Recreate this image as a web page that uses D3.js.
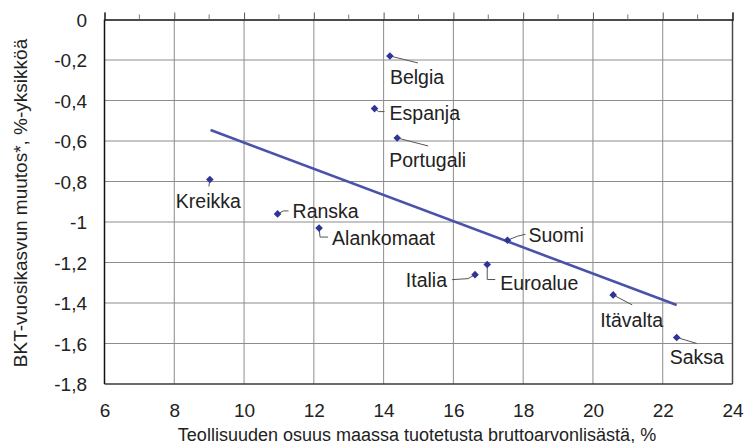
<!DOCTYPE html>
<html>
<head>
<meta charset="utf-8">
<script src="https://cdn.jsdelivr.net/npm/d3@7"></script>
<style>
  body { margin: 0; background: #fff; }
  svg { display: block; font-family: "Liberation Sans", Arial, sans-serif; }
  .grid line { stroke: #8c8c8c; stroke-width: 1; }
  .lab { font-size: 19.5px; fill: #222; }
  .tick text { font-size: 19px; fill: #222; }
</style>
</head>
<body>
<svg id="chart" width="746" height="443"></svg>
<script>
// Data
var countries = ['Belgia', 'Espanja', 'Portugali', 'Kreikka', 'Ranska', 'Alankomaat',
                 'Suomi', 'Italia', 'Euroalue', 'Itävalta', 'Saksa'];
var industryShare = [14.18, 13.74, 14.39, 9.02, 10.96, 12.15, 17.55, 16.62, 16.97, 20.58, 22.40];
var gdpChange = [-0.18, -0.44, -0.585, -0.79, -0.96, -1.03, -1.09, -1.26, -1.21, -1.36, -1.57];

var trendX = [9.04, 22.40];
var trendY = [-0.546, -1.41];

var xTicks = [6, 8, 10, 12, 14, 16, 18, 20, 22, 24];
var yTicks = [0, -0.2, -0.4, -0.6, -0.8, -1, -1.2, -1.4, -1.6, -1.8];

var xTitle = 'Teollisuuden osuus maassa tuotetusta bruttoarvonlisästä, %';
var yTitle = 'BKT-vuosikasvun muutos*, %-yksikköä';

// label placement: text offset + leader line, relative to the point (px)
var labelLayout = {
  'Belgia':     { dx: 0,   dy: 28, anchor: 'start', lead: [[0, 0], [28, 7]] },
  'Espanja':    { dx: 15,  dy: 11, anchor: 'start', lead: [[0, 0], [4, 3], [10, 3]] },
  'Portugali':  { dx: -8,  dy: 29, anchor: 'start', lead: [[0, 0], [31, 8]] },
  'Kreikka':    { dx: -34, dy: 29, anchor: 'start', lead: [[0, 0], [-1, 7]] },
  'Ranska':     { dx: 15,  dy: 4,  anchor: 'start', lead: [[0, 0], [6, -3], [11, -3]] },
  'Alankomaat': { dx: 13,  dy: 17, anchor: 'start', lead: [[0, 0], [1, 9], [9, 9]] },
  'Suomi':      { dx: 21,  dy: 2,  anchor: 'start', lead: [[0, 0], [10, -4], [18, -6]] },
  'Italia':     { dx: -28, dy: 12, anchor: 'end',   lead: [[0, 0], [-7, 4], [-23, 5]] },
  'Euroalue':   { dx: 13,  dy: 25, anchor: 'start', lead: [[0, 0], [0, 15], [8, 15]] },
  'Itävalta':   { dx: -13, dy: 32, anchor: 'start', lead: [[0, 0], [19, 10]] },
  'Saksa':      { dx: -7,  dy: 27, anchor: 'start', lead: [[0, 0], [20, 6]] }
};

var chart = {};

chart.draw = function () {
  var svg = d3.select('#chart');
  var pLeft = 104.5, pRight = 732.5, pTop = 19.5, pBottom = 384;

  var x = d3.scaleLinear().domain([6, 24]).range([pLeft, pRight]);
  var y = d3.scaleLinear().domain([-1.8, 0]).range([pBottom, pTop]);

  var fi = d3.formatLocale({ decimal: ',', thousands: ' ', grouping: [3], currency: ['', '€'], minus: '-' });
  var fmt = function (v) { return v === 0 ? '0' : fi.format('~g')(v); };

  // gridlines
  var grid = svg.append('g').attr('class', 'grid');
  grid.selectAll('line.v')
    .data(xTicks.slice(1, -1))
    .enter().append('line')
    .attr('x1', function (d) { return x(d); }).attr('x2', function (d) { return x(d); })
    .attr('y1', pTop).attr('y2', pBottom);
  grid.selectAll('line.h')
    .data(yTicks.slice(1, -1))
    .enter().append('line')
    .attr('x1', pLeft).attr('x2', pRight)
    .attr('y1', function (d) { return y(d); }).attr('y2', function (d) { return y(d); });

  // frame: right and bottom darker grey, left black
  svg.append('line').attr('x1', pRight).attr('x2', pRight).attr('y1', pTop).attr('y2', pBottom)
    .attr('stroke', '#4a4a4a').attr('stroke-width', 1.5);
  svg.append('line').attr('x1', pLeft).attr('x2', pRight).attr('y1', pBottom).attr('y2', pBottom)
    .attr('stroke', '#3a3a3a').attr('stroke-width', 1.5);
  svg.append('line').attr('x1', pLeft).attr('x2', pLeft).attr('y1', pTop).attr('y2', pBottom)
    .attr('stroke', '#111').attr('stroke-width', 1.5);

  // x axis sits at y = 0, ticks pointing up
  var xAxisTop = d3.axisTop(x).tickValues(xTicks).tickSize(7).tickFormat('');
  var gTop = svg.append('g').attr('transform', 'translate(0,' + y(0) + ')').call(xAxisTop);
  gTop.select('.domain').attr('stroke', '#111').attr('stroke-width', 1.5);
  gTop.selectAll('.tick line').attr('stroke', '#555');
  gTop.selectAll('line.minor')
    .data(d3.range(7, 24, 2)).enter().append('line')
    .attr('x1', function (d) { return x(d); }).attr('x2', function (d) { return x(d); })
    .attr('y1', 0).attr('y2', -5).attr('stroke', '#777');

  // x tick labels at the bottom
  var xAxisBottom = d3.axisBottom(x).tickValues(xTicks).tickSize(0).tickPadding(0).tickFormat(fmt);
  var gBot = svg.append('g').attr('transform', 'translate(0,' + pBottom + ')').call(xAxisBottom);
  gBot.select('.domain').remove();
  gBot.selectAll('.tick text').attr('y', 32.5).attr('dy', null);

  // y tick labels
  var yAxis = d3.axisLeft(y).tickValues(yTicks).tickSize(0).tickPadding(17.5).tickFormat(fmt);
  var gLeft = svg.append('g').attr('transform', 'translate(' + pLeft + ',0)').call(yAxis);
  gLeft.select('.domain').remove();
  gLeft.selectAll('.tick text').attr('dy', '0.36em');

  // axis titles
  svg.append('text')
    .attr('x', 417).attr('y', 440.5)
    .attr('text-anchor', 'middle')
    .style('font-size', '18px').style('fill', '#222')
    .text(xTitle);
  svg.append('text')
    .attr('transform', 'translate(26.5,203) rotate(-90)')
    .attr('text-anchor', 'middle')
    .style('font-size', '19px').style('fill', '#222')
    .text(yTitle);

  // trend line
  svg.append('line')
    .attr('x1', x(trendX[0])).attr('y1', y(trendY[0]))
    .attr('x2', x(trendX[1])).attr('y2', y(trendY[1]))
    .attr('stroke', '#4a53a8').attr('stroke-width', 2.6);

  // points, leaders and labels
  var pts = countries.map(function (c, i) {
    return { name: c, px: x(industryShare[i]), py: y(gdpChange[i]) };
  });

  var g = svg.append('g');
  g.selectAll('path.lead')
    .data(pts).enter().append('path')
    .attr('fill', 'none').attr('stroke', '#555').attr('stroke-width', 1)
    .attr('d', function (d) {
      return d3.line()(labelLayout[d.name].lead.map(function (p) { return [d.px + p[0], d.py + p[1]]; }));
    });

  g.selectAll('path.mark')
    .data(pts).enter().append('path')
    .attr('fill', '#2f3596')
    .attr('d', function (d) {
      var r = 3.8;
      return 'M' + d.px + ',' + (d.py - r) + 'L' + (d.px + r) + ',' + d.py +
        'L' + d.px + ',' + (d.py + r) + 'L' + (d.px - r) + ',' + d.py + 'Z';
    });

  g.selectAll('text.lab')
    .data(pts).enter().append('text')
    .attr('class', 'lab')
    .attr('x', function (d) { return d.px + labelLayout[d.name].dx; })
    .attr('y', function (d) { return d.py + labelLayout[d.name].dy; })
    .attr('text-anchor', function (d) { return labelLayout[d.name].anchor; })
    .text(function (d) { return d.name; });
};

chart.draw();
</script>
</body>
</html>
